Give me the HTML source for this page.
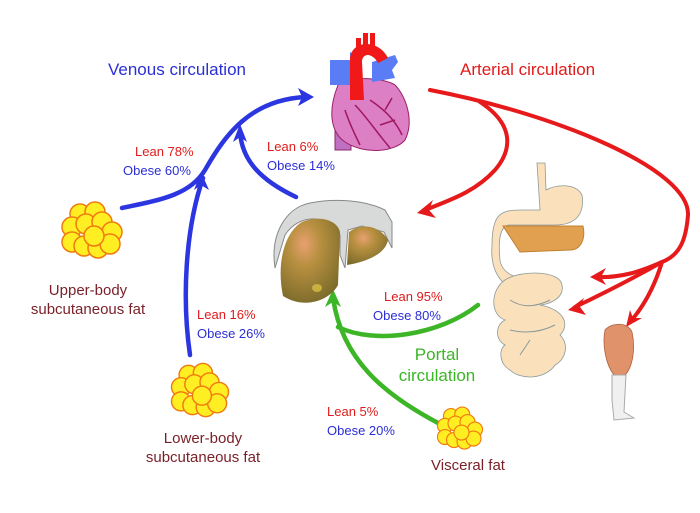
<!DOCTYPE html>
<html><head><meta charset="utf-8"><style>
html,body{margin:0;padding:0;background:#fff;}
svg{display:block;}
text{font-family:"Liberation Sans",Arial,sans-serif;}
</style></head><body>
<svg width="700" height="513" viewBox="0 0 700 513" xmlns="http://www.w3.org/2000/svg">
<defs>
<radialGradient id="lv" cx="0.4" cy="0.3" r="0.75"><stop offset="0" stop-color="#e8a070"/><stop offset="0.35" stop-color="#b89040"/><stop offset="1" stop-color="#7a6a2a"/></radialGradient>
<g id="fat">
<circle cx="-12" cy="-16" r="10"/><circle cx="3" cy="-18" r="10"/><circle cx="-20" cy="-3" r="10"/><circle cx="-6" cy="-6" r="10"/><circle cx="10" cy="-8" r="10"/><circle cx="20" cy="2" r="10"/><circle cx="-20" cy="12" r="10"/><circle cx="-8" cy="16" r="10"/><circle cx="6" cy="18" r="10"/><circle cx="18" cy="14" r="10"/><circle cx="2" cy="6" r="10"/>
</g>
</defs>

<text x="108" y="75" font-size="17" fill="#2b2fd6">Venous circulation</text>
<text x="460" y="75" font-size="17" fill="#e01b1b">Arterial circulation</text>

<g fill="none" stroke="#2b35e0" stroke-width="4.5" stroke-linecap="round">
<path d="M122,208 C160,200 190,195 205,170 C225,135 250,100 305,97"/>
<path d="M190,355 C182,300 185,230 203,178"/>
<path d="M296,197 C260,180 242,160 240,132"/>
</g>
<g fill="#2b35e0">
<path d="M314,97 L298,88 L302,97 L298,106 Z"/>
<path d="M201,172 L194,190 L201,185 L209,190 Z"/>
<path d="M240,124 L233,142 L240,137 L247,142 Z"/>
</g>

<g fill="none" stroke="#e61a1a" stroke-width="4" stroke-linecap="round">
<path d="M430,90 C560,115 690,170 688,215 C686,240 680,255 662,262"/>
<path d="M480,102 C515,125 512,150 495,170 C475,192 450,200 425,210"/>
<path d="M662,262 C640,272 620,278 596,277"/>
<path d="M662,262 C630,280 600,295 575,307"/>
<path d="M662,262 C655,285 645,305 630,322"/>
</g>
<g fill="#e61a1a">
<path d="M417,213 L433,200 L429,210 L436,218 Z"/>
<path d="M590,277 L606,268 L601,277 L606,285 Z"/>
<path d="M568,310 L584,298 L580,307 L586,315 Z"/>
<path d="M626,327 L630,310 L633,318 L642,318 Z"/>
</g>

<g fill="none" stroke="#3cb526" stroke-width="4.5" stroke-linecap="round">
<path d="M438,423 C385,395 342,360 333,298"/>
<path d="M478,305 C440,335 375,345 338,327"/>
</g>
<path fill="#3cb526" d="M333,289 L325,307 L333,302 L341,307 Z"/>

<!-- heart -->
<g>
<rect x="335" y="125" width="16" height="25" fill="#c070c0" stroke="#8a2a6a"/>
<path d="M338,85 C328,110 330,132 345,142 C365,155 395,152 405,140 C415,120 405,95 395,85 C385,78 350,75 338,85 Z" fill="#dd7fc4" stroke="#9a1f6a" stroke-width="1"/>
<g fill="none" stroke="#a01860" stroke-width="1.5">
<path d="M355,105 C365,115 375,130 390,148"/><path d="M370,100 C385,110 395,120 402,135"/><path d="M345,110 C350,125 355,135 360,145"/><path d="M385,110 L392,98"/><path d="M380,125 L395,120"/>
</g>
<path d="M330,60 L350,60 L350,52 L360,58 L360,85 L330,85 Z" fill="#5a7cf5"/>
<path d="M372,62 L395,55 L398,62 L392,70 L395,78 L372,82 Z" fill="#5a7cf5"/>
<path d="M350,100 L350,60 C350,40 378,38 388,58 L378,63 C372,52 362,53 362,62 L364,100 Z" fill="#f01818"/>
<rect x="363" y="33" width="5" height="14" fill="#f01818"/><rect x="370" y="33" width="5" height="16" fill="#f01818"/><rect x="356" y="38" width="5" height="12" fill="#f01818"/>
</g>

<!-- liver -->
<g>
<path d="M275,268 C270,235 285,208 310,203 C335,198 365,200 385,210 L392,222 L392,248 L384,232 L362,226 L348,230 L345,268 L340,255 L340,235 C330,215 300,212 285,235 Z" fill="#d8dada" stroke="#888" stroke-width="1"/>
<path d="M283,296 C276,262 285,232 302,222 C320,215 337,220 340,232 L338,285 C330,300 305,310 283,296 Z" fill="url(#lv)"/>
<path d="M347,265 L349,232 C362,222 380,226 388,240 C385,255 365,262 347,265 Z" fill="url(#lv)"/>
<ellipse cx="317" cy="288" rx="5" ry="4" fill="#c8b040"/>
</g>

<!-- stomach/intestine -->
<g fill="#fbe0bc" stroke="#8a9a9a" stroke-width="0.8">
<path d="M537,163 L545,163 L546,190 C555,185 575,182 582,195 C585,215 575,225 555,225 L510,225 C500,225 498,240 500,260 C502,275 520,280 535,280 L540,280 L530,295 C500,290 490,270 492,245 C492,215 500,210 520,210 L540,210 Z"/>
<path d="M505,280 C520,270 560,270 562,285 C565,300 545,305 540,305 C565,310 570,325 560,335 C570,345 565,360 555,365 C545,380 520,380 510,370 C500,365 498,350 505,345 C495,340 495,325 505,320 C490,315 490,290 505,280 Z"/>
</g>
<path d="M503,226 L583,226 C586,240 580,250 570,250 L520,252 Z" fill="#e0a050" stroke="#c08030"/>
<g fill="none" stroke="#8a9a9a" stroke-width="1"><path d="M510,300 C525,310 540,305 550,300"/><path d="M510,330 C530,335 545,330 555,325"/><path d="M520,355 L530,340"/></g>

<!-- leg -->
<g>
<path d="M605,330 C612,322 628,322 632,332 C636,350 632,368 625,375 L622,395 L618,395 L614,375 C606,365 602,345 605,330 Z" fill="#e0926a" stroke="#b06040" stroke-width="0.8"/>
<path d="M612,375 L626,375 L624,412 L634,418 L614,420 L612,400 Z" fill="#f0f0f0" stroke="#aaa"/>
</g>

<g fill="#ffee22" stroke="#f07a10" stroke-width="1.5">
<use href="#fat" transform="translate(92,230)"/>
<use href="#fat" transform="translate(200,390) scale(0.95)"/>
<use href="#fat" transform="translate(460,428) scale(0.75)"/>
</g>

<g font-size="13">
<text x="135" y="156" fill="#e01b1b">Lean 78%</text>
<text x="123" y="175" fill="#2b2fd6">Obese 60%</text>
<text x="267" y="151" fill="#e01b1b">Lean 6%</text>
<text x="267" y="170" fill="#2b2fd6">Obese 14%</text>
<text x="197" y="319" fill="#e01b1b">Lean 16%</text>
<text x="197" y="338" fill="#2b2fd6">Obese 26%</text>
<text x="384" y="301" fill="#e01b1b">Lean 95%</text>
<text x="373" y="320" fill="#2b2fd6">Obese 80%</text>
<text x="327" y="416" fill="#e01b1b">Lean 5%</text>
<text x="327" y="435" fill="#2b2fd6">Obese 20%</text>
</g>
<g font-size="15" fill="#7a1f28" text-anchor="middle">
<text x="88" y="295">Upper-body</text>
<text x="88" y="314">subcutaneous fat</text>
<text x="203" y="443">Lower-body</text>
<text x="203" y="462">subcutaneous fat</text>
<text x="468" y="470">Visceral fat</text>
</g>
<g font-size="17" fill="#3cb526" text-anchor="middle">
<text x="437" y="360">Portal</text>
<text x="437" y="381">circulation</text>
</g>
</svg>
</body></html>
